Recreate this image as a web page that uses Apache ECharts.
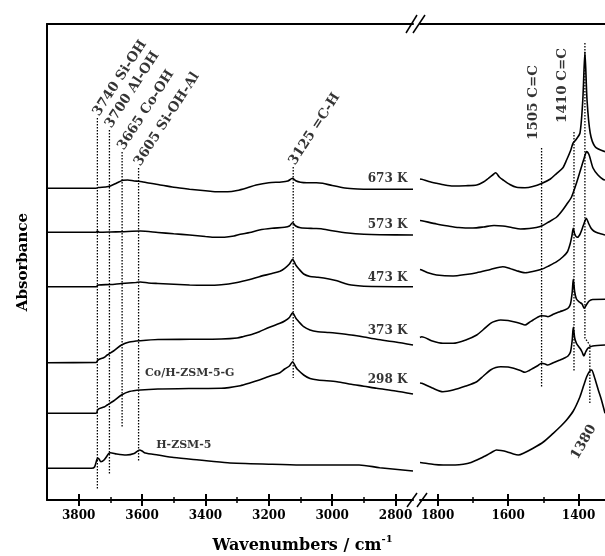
<!DOCTYPE html>
<html><head><meta charset="utf-8">
<script src="https://cdn.jsdelivr.net/npm/echarts@6/dist/echarts.min.js"></script>
<style>html,body{margin:0;padding:0;background:#fff}#c{width:605px;height:556px}</style>
</head><body><div id="c"></div>
<script>
// ---------- data (wavenumber, absorbance in arbitrary stacked units) ----------
const leftRange = [2745, 3900];
const rightRange = [1325, 1850];
const leftMajorTicks = [3800, 3600, 3400, 3200, 3000, 2800];
const leftMinorTicks = [3700, 3500, 3300, 3100, 2900];
const rightMajorTicks = [1800, 1600, 1400];
const rightMinorTicks = [1700, 1500];

const s673L = [[3900,311.7],[3800,311.7],[3745,311.7],[3738,312.5],[3715,313],[3700,314],[3680,317],[3660,319.8],[3645,320],[3625,319],[3610,318.8],[3600,318.3],[3580,317],[3550,315.5],[3500,312.7],[3450,310.8],[3400,309.2],[3370,308.3],[3330,308.3],[3300,309.5],[3270,312],[3240,315],[3200,317.3],[3160,318],[3140,319],[3125,321.7],[3115,319.3],[3100,317.8],[3080,317.3],[3050,317.3],[3030,316.7],[3000,314.5],[2960,312],[2920,311],[2880,310.7],[2745,310.7]];
const s573L = [[3900,267.7],[3745,267.7],[3741,269],[3735,267.8],[3700,268],[3665,268.3],[3605,269],[3550,267.5],[3500,266.2],[3450,265],[3400,263.5],[3370,262.7],[3340,262.8],[3310,264],[3290,265.7],[3260,267.5],[3230,270],[3190,271.7],[3150,272.7],[3135,274],[3125,277.3],[3115,274],[3100,272.3],[3060,271.5],[3035,271.3],[3000,269.3],[2950,267],[2900,265.7],[2850,265.2],[2745,265]];
const s473L = [[3900,213.3],[3745,213.3],[3738,215],[3700,215.5],[3665,216.5],[3620,217.5],[3605,218],[3580,217],[3550,216.5],[3450,215],[3400,214.7],[3350,215.2],[3300,217.5],[3260,220.5],[3230,223.3],[3190,226.5],[3165,228.7],[3150,231.7],[3135,236],[3125,240.7],[3115,235],[3105,231],[3090,226],[3070,223.5],[3045,222.7],[3010,221],[2985,219.3],[2960,216.5],[2940,215],[2900,213.8],[2745,213.3]];
const s373L = [[3900,137.3],[3745,137.5],[3739,140],[3720,142.5],[3710,145],[3690,149],[3665,155],[3640,158],[3605,159.3],[3550,160.5],[3450,160.7],[3350,161],[3300,162],[3280,163.5],[3250,166],[3230,168.3],[3200,172.5],[3165,176.7],[3150,179],[3135,182.5],[3125,187.3],[3115,182],[3110,180],[3090,173.3],[3070,170],[3045,168.3],[3010,167.5],[2985,166.7],[2940,165],[2900,163],[2860,160.7],[2800,158],[2745,155]];
const s298L = [[3900,86.7],[3745,86.9],[3739,90.7],[3720,93],[3710,95],[3690,99],[3665,105],[3640,108.5],[3605,110],[3550,111],[3450,111.5],[3350,111.7],[3290,114.3],[3260,117],[3230,120],[3200,123.5],[3165,127.3],[3150,131],[3135,134],[3125,138.3],[3115,133],[3110,130.7],[3090,125],[3070,121.5],[3045,120],[2985,118.3],[2940,115.7],[2900,113.8],[2860,111.7],[2800,109],[2745,106]];
const sHL = [[3900,31.7],[3760,31.7],[3750,33],[3742,41],[3738,41.7],[3730,38.3],[3720,40],[3705,46.5],[3700,47.3],[3680,46],[3650,45],[3625,46.5],[3608,50],[3600,49],[3590,47],[3550,45],[3500,42.5],[3420,40],[3330,37.3],[3200,35.8],[3100,35],[3000,35],[2915,35],[2850,32.3],[2745,29]];

const s673R = [[1850,321],[1845,320.7],[1825,318.5],[1803,316.7],[1780,315],[1756,314],[1720,314.3],[1689,315],[1670,318],[1656,321.7],[1642,325.5],[1635,327.3],[1625,323],[1614,320],[1595,315.5],[1576,312.7],[1552,312.3],[1530,313.5],[1505,316.5],[1480,321],[1462,326.7],[1445,332],[1434,340],[1422,350],[1416,356.7],[1408,360],[1396,367],[1388,400],[1382,448],[1376,400],[1367,367],[1353,353.3],[1325,348.3]];
const s573R = [[1850,279.5],[1845,279.3],[1803,276],[1770,274],[1740,272.5],[1700,272],[1670,273],[1640,274.5],[1615,274],[1590,272.5],[1565,271],[1540,271.5],[1520,272.5],[1505,274],[1485,278],[1462,283],[1445,290],[1434,295.5],[1420,303],[1405,318],[1392,333],[1384,342],[1377,348.5],[1370,345],[1359,332],[1345,325],[1330,320.5],[1325,320]];
const s473R = [[1850,230.5],[1845,230],[1825,227],[1803,225],[1756,224],[1720,225.5],[1689,227.3],[1650,230.5],[1615,233.3],[1595,231.5],[1576,229.3],[1552,227.3],[1530,228.5],[1505,230.7],[1485,234],[1462,238.3],[1445,243],[1432,248],[1424,256],[1419,264],[1415,271.7],[1411,266],[1404,262.7],[1397,265],[1390,271],[1383,278],[1378,281.7],[1372,277],[1365,272],[1357,269],[1345,267],[1325,265]];
const s373R = [[1850,162.5],[1845,163.3],[1815,159],[1785,156.7],[1756,156.7],[1720,160],[1689,165],[1670,170.5],[1650,176.7],[1635,179],[1621,180],[1600,179.5],[1584,178.3],[1565,176.5],[1552,175],[1540,177.5],[1529,180],[1515,183],[1505,184.3],[1495,184],[1487,183.3],[1470,186],[1453,188.3],[1440,190],[1430,191.7],[1423,196],[1418,208],[1415,220.7],[1411,208],[1406,201],[1398,198],[1390,196],[1384,191.7],[1378,195],[1370,199],[1360,200.5],[1325,200.7]];
const s298R = [[1850,117],[1845,116.7],[1815,112],[1785,108.3],[1756,110],[1720,114],[1689,118.3],[1670,124],[1650,130],[1635,132.5],[1621,133.3],[1600,133],[1584,131.7],[1565,129.5],[1552,127.7],[1540,129.5],[1529,131.7],[1515,134.5],[1505,136.7],[1495,136],[1487,135],[1470,137.5],[1453,140],[1440,142],[1430,144],[1423,148],[1418,160],[1415,172.7],[1411,162],[1406,156.7],[1396,151.7],[1390,148],[1385,144],[1380,148],[1374,151.7],[1360,154],[1325,155]];
const sHR = [[1850,37.5],[1845,37.3],[1810,35.5],[1784,35],[1750,35],[1727,35.7],[1705,37.5],[1689,40],[1665,44],[1645,48],[1633,50],[1620,49.5],[1604,48.3],[1585,46],[1571,45],[1555,47],[1529,51.7],[1500,58],[1472,66.7],[1450,74],[1434,80],[1415,89],[1396,103.3],[1385,115],[1377,123.3],[1368,129],[1363,130],[1356,124],[1344,110],[1335,100],[1325,86.7]];

// annotation dotted lines: wavenumber, top, bottom, text
const annoWnLeft = [3741, 3703, 3663, 3611, 3123];
const annoTopLeft = [382, 370, 348, 332, 333];
const annoBotLeft = [10, 25, 73, 38, 122];
const annoTextLeft = ['3740 Si-OH', '3700 Al-OH', '3665 Co-OH', '3605 Si-OH-Al', '3125 =C-H'];
const annoWnRight = [1505, 1413];
const annoTopRight = [352, 368];
const annoBotRight = [112, 128];
const annoTextRight = ['1505 C=C', '1410 C=C'];
const line1380 = [[1382, 457], [1382, 162], [1368, 155], [1368, 97]];
const label1380 = '1380';

const tempLabels = ['673 K', '573 K', '473 K', '373 K', '298 K'];
const tempLabelY = [321, 275, 222.3, 169, 120];
const tempLabelWn = 2761;
const sampleLabels = ['Co/H-ZSM-5-G', 'H-ZSM-5'];
const sampleLabelPos = [[3592, 127.3], [3557, 55]];

// ---------- chart ----------
const FONT = "'DejaVu Serif', 'Liberation Serif', serif";
const chart = echarts.init(document.getElementById('c'), null, {renderer: 'canvas'});

function xAx(grid, range, pos, ticks, len, inside, withLabels, lineShow, tickWidth) {
  return {
    type: 'value', gridIndex: grid, min: range[0], max: range[1], inverse: true, position: pos,
    axisLine: {show: lineShow, onZero: false, lineStyle: {color: '#000', width: 2}},
    axisTick: {show: ticks != null, customValues: ticks || [], length: len, inside: inside,
               lineStyle: {color: '#000', width: tickWidth}},
    axisLabel: {show: withLabels, customValues: ticks || [], margin: 10, color: '#000',
                formatter: v => String(v),
                fontFamily: FONT, fontWeight: 'bold', fontSize: 12},
    splitLine: {show: false}
  };
}
const xAxes = [];
[[0, leftRange, leftMajorTicks, leftMinorTicks], [1, rightRange, rightMajorTicks, rightMinorTicks]].forEach(([g, r, maj, mnr]) => {
  xAxes.push(xAx(g, r, 'bottom', maj, 6, false, true, true, 2));
  xAxes.push(xAx(g, r, 'bottom', maj, 6, true, false, false, 2));
  xAxes.push(xAx(g, r, 'bottom', mnr, 3, false, false, false, 1.5));
  xAxes.push(xAx(g, r, 'bottom', mnr, 3, true, false, false, 1.5));
  xAxes.push(xAx(g, r, 'top', null, 0, false, false, true, 1));
});
function yAx(grid, showLine, name) {
  return {
    type: 'value', gridIndex: grid, min: 0, max: 476,
    axisLine: {show: showLine, onZero: false, lineStyle: {color: '#000', width: 2}},
    axisTick: {show: false}, axisLabel: {show: false}, splitLine: {show: false},
    name: name, nameLocation: 'middle', nameRotate: 90, nameGap: 16,
    nameTextStyle: {fontFamily: FONT, fontWeight: 'bold', fontSize: 15, color: '#000'}
  };
}

const spec = {type: 'line', symbol: 'none', smooth: 0.25, silent: true,
              lineStyle: {color: '#000', width: 1.6}, z: 3};
const series = [];
[s673L, s573L, s473L, s373L, s298L, sHL].forEach(d => series.push(Object.assign({}, spec, {xAxisIndex: 0, yAxisIndex: 0, data: d})));
[s673R, s573R, s473R, s373R, s298R, sHR].forEach(d => series.push(Object.assign({}, spec, {xAxisIndex: 5, yAxisIndex: 1, data: d})));

const dotStyle = {color: '#000', width: 1.3, type: [1.5, 1.5]};
annoWnLeft.forEach((w, i) => series.push({type: 'line', symbol: 'none', silent: true, xAxisIndex: 0, yAxisIndex: 0,
  lineStyle: dotStyle, data: [[w, annoTopLeft[i]], [w, annoBotLeft[i]]], z: 2}));
annoWnRight.forEach((w, i) => series.push({type: 'line', symbol: 'none', silent: true, xAxisIndex: 5, yAxisIndex: 1,
  lineStyle: dotStyle, data: [[w, annoTopRight[i]], [w, annoBotRight[i]]], z: 2}));
series.push({type: 'line', symbol: 'none', silent: true, xAxisIndex: 5, yAxisIndex: 1, lineStyle: dotStyle, data: line1380, z: 2});

const txt = {fontFamily: FONT, fontWeight: 'bold', color: '#000'};
const hidden = {symbolSize: 1, itemStyle: {color: 'rgba(0,0,0,0)'}, silent: true};
// rotated annotation labels (left panel); label offsets are in the rotated text frame
series.push(Object.assign({type: 'scatter', xAxisIndex: 0, yAxisIndex: 0,
  data: annoWnLeft.map((w, i) => ({name: annoTextLeft[i], value: [w, annoTopLeft[i]]})),
  label: Object.assign({show: true, formatter: '{b}', position: 'right', distance: 0, rotate: 57, offset: [1.8, -3.2], fontSize: 13.5}, txt)}, hidden));
// vertical labels (right panel)
const rightLabelOffsets = [[8, -9], [9, -12.4]];
series.push(Object.assign({type: 'scatter', xAxisIndex: 5, yAxisIndex: 1,
  data: annoWnRight.map((w, i) => ({name: annoTextRight[i], value: [w, annoTopRight[i]], label: {offset: rightLabelOffsets[i]}})),
  label: Object.assign({show: true, formatter: '{b}', position: 'right', distance: 0, rotate: 90, fontSize: 13.5}, txt)}, hidden));
// 1380 label
series.push(Object.assign({type: 'scatter', xAxisIndex: 5, yAxisIndex: 1,
  data: [{name: label1380, value: line1380[3]}],
  label: Object.assign({show: true, formatter: '{b}', position: 'inside', align: 'center', verticalAlign: 'middle', rotate: 60, offset: [-36.8, 14.3], fontSize: 13.5}, txt)}, hidden));
// temperature labels
series.push(Object.assign({type: 'scatter', xAxisIndex: 0, yAxisIndex: 0,
  data: tempLabels.map((t, i) => ({name: t, value: [tempLabelWn, tempLabelY[i]]})),
  label: Object.assign({show: true, formatter: '{b}', position: 'left', distance: 0, fontSize: 12}, txt)}, hidden));
// sample labels
series.push(Object.assign({type: 'scatter', xAxisIndex: 0, yAxisIndex: 0,
  data: sampleLabels.map((t, i) => ({name: t, value: sampleLabelPos[i]})),
  label: Object.assign({show: true, formatter: '{b}', position: 'right', distance: 0, fontSize: 11}, txt)}, hidden));

const slash = (x1, y1, x2, y2) => ({type: 'line', shape: {x1, y1, x2, y2}, style: {stroke: '#000', lineWidth: 1.5}, z: 10});

chart.setOption({
  animation: false,
  backgroundColor: '#fff',
  title: {text: '{b|Wavenumbers / cm}{s|-1}', left: 'center', top: 534, padding: 0,
    textStyle: {rich: {
      b: {fontFamily: FONT, fontWeight: 'bold', fontSize: 16, color: '#000', lineHeight: 20, verticalAlign: 'bottom'},
      s: {fontFamily: FONT, fontWeight: 'bold', fontSize: 10, color: '#000', lineHeight: 20, verticalAlign: 'top'}
    }}},
  grid: [
    {left: 47, top: 24, width: 366, bottom: 56, containLabel: false, outerBoundsMode: 'none'},
    {left: 420, top: 24, right: 0, bottom: 56, containLabel: false, outerBoundsMode: 'none'}
  ],
  xAxis: xAxes,
  yAxis: [yAx(0, true, 'Absorbance'), yAx(1, false, '')],
  series: series,
  graphic: [
    slash(406, 33, 417, 15), slash(413, 33, 425, 15),
    slash(407, 507, 417, 493), slash(417, 507, 427, 493)
  ]
});
</script></body></html>
